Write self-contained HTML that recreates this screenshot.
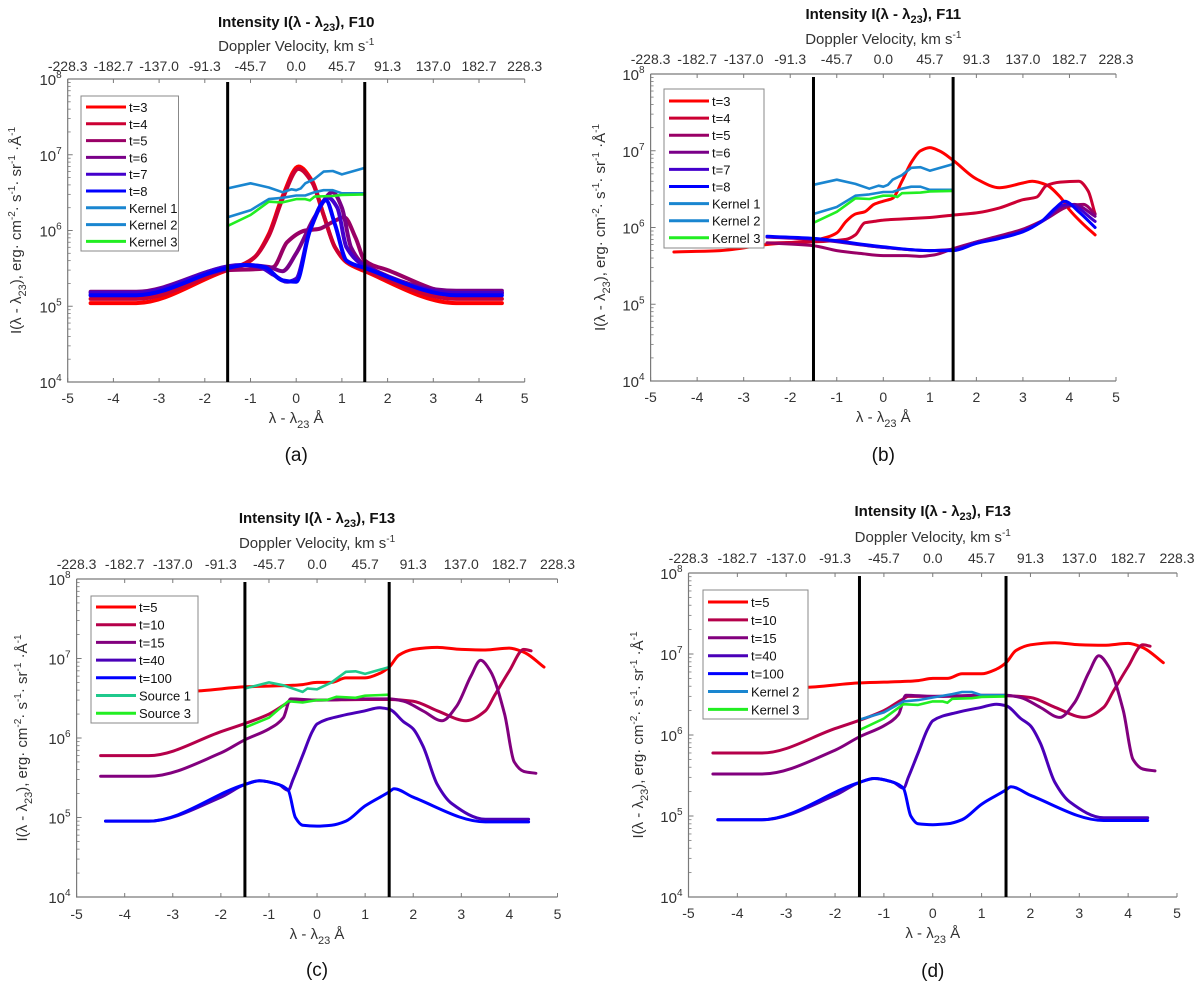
<!DOCTYPE html>
<html><head><meta charset="utf-8">
<style>
html,body{margin:0;padding:0;background:#fff;}
svg{display:block;}
text{font-family:"Liberation Sans",sans-serif;}
</style></head>
<body>
<svg id="fig" width="1200" height="988" viewBox="0 0 1200 988" xmlns="http://www.w3.org/2000/svg"></svg>
<script>
// ---------- DATA ----------
// Panel (a) F10
const aT3x=[-4.5,-3.5,-1.5,-1.2,-0.9,-0.6,-0.3,0.05,0.35,0.6,0.85,1.1,1.5,3.5,4.5];
const aT3y=[1.1e5,1.1e5,3e5,3.4e5,4.5e5,9e5,2.8e6,7e6,4.5e6,1.6e6,6e5,3.8e5,2.9e5,1.1e5,1.1e5];
const aT4x=[-4.5,-3.5,-1.5,-1.2,-0.9,-0.6,-0.3,0.05,0.35,0.6,0.85,1.1,1.5,3.5,4.5];
const aT4y=[1.25e5,1.25e5,3.1e5,3.5e5,4.5e5,8.5e5,2.6e6,6.5e6,4.3e6,1.6e6,6e5,3.9e5,3e5,1.25e5,1.25e5];
const aT5x=[-4.5,-3.5,-1.5,-0.8,-0.5,-0.2,0.2,0.5,0.8,1.05,1.3,1.5,2,3.5,4.5];
const aT5y=[1.4e5,1.4e5,3e5,3.1e5,3.3e5,7e5,1e6,1.05e6,1.3e6,1.5e6,8e5,4e5,3e5,1.5e5,1.5e5];
const aT6x=[-4.5,-3.5,-1.5,-1.1,-0.6,-0.3,0,0.4,0.8,1.0,1.2,1.5,3.5,4.5];
const aT6y=[1.55e5,1.55e5,3.3e5,3.5e5,3.3e5,2.9e5,5e5,1.5e6,3.2e6,2e6,6e5,3.5e5,1.6e5,1.6e5];
const aT7x=[-4.5,-3.5,-1.2,-0.8,-0.5,-0.2,0,0.3,0.7,0.9,1.1,1.5,3.5,4.5];
const aT7y=[1.5e5,1.5e5,3.5e5,3.3e5,2.6e5,2.1e5,2.3e5,1e6,2.7e6,2e6,6e5,3.4e5,1.5e5,1.5e5];
const aT8x=[-4.5,-3.5,-1.5,-1.1,-0.7,-0.3,0,0.3,0.65,0.85,1.1,1.5,3.5,4.5];
const aT8y=[1.4e5,1.4e5,3.2e5,3.5e5,3.3e5,2.2e5,2.1e5,1e6,2.5e6,1.2e6,4e5,3.2e5,1.4e5,1.4e5];
const k1x=[-1.5,-1,-0.6,-0.3,-0.1,0,0.1,0.2,0.4,0.6,0.8,1.0,1.5];
const k1y=[3.6e6,4.2e6,3.7e6,3.2e6,3.5e6,3.4e6,3.6e6,4.2e6,4.8e6,6e6,6.1e6,5.5e6,6.7e6];
const k2x=[-1.5,-1,-0.6,-0.3,0,0.2,0.4,0.6,0.8,1.0,1.5];
const k2y=[1.5e6,1.85e6,2.6e6,2.7e6,2.9e6,2.9e6,3.2e6,3.4e6,3.4e6,3.1e6,3.1e6];
const k3x=[-1.5,-1,-0.6,-0.3,0,0.2,0.3,0.4,0.8,1.0,1.5];
const k3y=[1.15e6,1.6e6,2.4e6,2.35e6,2.6e6,2.6e6,2.5e6,2.8e6,2.85e6,2.95e6,3e6];
// Panel (b) F11
const bT3x=[-4.5,-3.5,-2.5,-1.5,-1.2,-1,-0.8,-0.6,-0.4,-0.2,0,0.2,0.4,0.6,0.8,1.0,1.2,1.5,2,2.5,3,3.2,3.5,3.8,4.0,4.3,4.55];
const bT3y=[4.8e5,5e5,6e5,6.8e5,7.5e5,8.5e5,1.2e6,1.5e6,1.6e6,2e6,2.2e6,2.4e6,4e6,7e6,1e7,1.1e7,1e7,7.5e6,4.3e6,3.3e6,3.8e6,4e6,3.6e6,2.5e6,1.7e6,1.1e6,8e5];
const bT4x=[-2.5,-1.5,-0.8,-0.6,-0.4,-0.2,0,0.5,1,1.5,2,2.5,3,3.3,3.5,3.8,4.2,4.4,4.55];
const bT4y=[6.3e5,6.5e5,7e5,8e5,1.15e6,1.2e6,1.25e6,1.3e6,1.35e6,1.45e6,1.55e6,1.8e6,2.3e6,2.5e6,3.5e6,3.9e6,4e6,3e6,1.5e6];
const bT5x=[-2.5,-1.5,-1,-0.5,0,0.5,0.8,1.1,1.5,2,2.5,3,3.5,4,4.3,4.55];
const bT5y=[6.3e5,5.8e5,5e5,4.6e5,4.3e5,4.3e5,4.2e5,4.4e5,5.3e5,6.5e5,7.8e5,9.5e5,1.3e6,1.9e6,2e6,1.5e6];
const bT6x=[-2.5,-1.5,0,1,1.5,2,2.5,3,3.5,3.8,4.1,4.55];
const bT6y=[7.5e5,7e5,5.5e5,5e5,5.2e5,6.5e5,7.5e5,9e5,1.3e6,1.8e6,2e6,1.4e6];
const bT7x=[-2.5,-1.5,0,1,1.5,2,2.5,3,3.5,3.8,4.0,4.55];
const bT7y=[7.6e5,7.1e5,5.5e5,5e5,5.1e5,6.3e5,7.3e5,9e5,1.3e6,1.9e6,2e6,1.2e6];
const bT8x=[-2.5,-1.5,0,1,1.5,2,2.5,3,3.4,3.7,3.9,4.2,4.55];
const bT8y=[7.7e5,7.2e5,5.6e5,5e5,5e5,6.2e5,7.2e5,8.8e5,1.2e6,1.8e6,2.2e6,1.6e6,1e6];
// Panel (c) and (d) F13
const cT5x=[-4.5,-2.5,-1.5,-0.5,-0.3,0,0.3,0.6,1.0,1.3,1.5,1.7,2,2.5,3,3.5,4,4.3,4.72];
const cT5y=[3.6e6,3.9e6,4.4e6,4.6e6,4.7e6,5e6,5e6,5.7e6,5.7e6,6.5e6,7.8e6,1.1e7,1.3e7,1.38e7,1.3e7,1.28e7,1.35e7,1.2e7,7.8e6];
const cT10x=[-4.5,-3.5,-2,-1,-0.6,-0.5,0,1,1.5,2,2.5,3.1,3.5,3.7,4,4.3,4.45];
const cT10y=[6e5,6e5,1.2e6,2e6,2.8e6,3e6,3e6,3.05e6,3.05e6,2.9e6,2.2e6,1.65e6,2.2e6,3.5e6,7e6,1.3e7,1.25e7];
const cT15x=[-4.5,-3.5,-2,-1.5,-1,-0.7,-0.55,0,1,1.5,1.8,2.2,2.6,2.9,3.2,3.4,3.6,3.9,4.1,4.3,4.55];
const cT15y=[3.3e5,3.3e5,6.5e5,9.5e5,1.3e6,1.8e6,3.1e6,3e6,3.1e6,3.1e6,2.9e6,2.2e6,1.65e6,2.5e6,6e6,9.5e6,7e6,2e6,5e5,3.8e5,3.6e5];
const cT40x=[-4.4,-3.5,-2,-1.5,-1.2,-0.8,-0.6,-0.5,-0.3,-0.1,0,0.5,1,1.3,1.5,1.8,2,2.2,2.5,2.8,3.5,4.4];
const cT40y=[9e4,9e4,1.8e5,2.6e5,2.9e5,2.6e5,2.2e5,3e5,6e5,1.2e6,1.5e6,1.9e6,2.2e6,2.4e6,2.3e6,1.6e6,1.3e6,8e5,2.6e5,1.5e5,9.5e4,9.5e4];
const cT100x=[-4.4,-3.5,-1.5,-1.2,-0.8,-0.6,-0.45,-0.3,0,0.3,0.6,1.0,1.5,1.6,2,3.5,4.4];
const cT100y=[9e4,9e4,2.6e5,2.9e5,2.6e5,2.2e5,1e5,8e4,7.8e4,8e4,9e4,1.4e5,2.1e5,2.3e5,1.8e5,8.8e4,8.8e4];
const s1x=[-1.5,-1,-0.7,-0.3,-0.2,0,0.3,0.6,0.8,1.0,1.5];
const s1y=[4.2e6,5e6,4.6e6,3.8e6,4.2e6,4.1e6,5e6,6.8e6,6.9e6,6.4e6,7.8e6];
const s3x=[-1.5,-1,-0.6,-0.3,0,0.2,0.4,0.8,1,1.5];
const s3y=[1.35e6,1.8e6,2.9e6,2.8e6,3e6,3e6,3.3e6,3.2e6,3.4e6,3.5e6];
const dk2x=[-1.5,-1,-0.6,-0.3,0,0.4,0.6,0.8,1.0,1.5];
const dk2y=[1.55e6,1.9e6,2.6e6,2.7e6,2.9e6,3.2e6,3.4e6,3.4e6,3.1e6,3.1e6];
const xTicks=[-5,-4,-3,-2,-1,0,1,2,3,4,5];
const topTickLabels=["-228.3","-182.7","-137.0","-91.3","-45.7","0.0","45.7","91.3","137.0","182.7","228.3"];
const yDecades=[4,5,6,7,8];

const C={r:"#ff0000",c4:"#cc0033",c5:"#990066",c6:"#7a0088",c7:"#4400cc",c8:"#0000ff",k:"#1a86d0",g:"#22ee22",s1:"#1fc98c",c10:"#b5004a",c15:"#82007e",c40:"#4a00b8"};

const panels=[
 {id:"a",L:67.7,R:524.7,T:79,B:382,title:"F10",tY:27,dY:51,ttY:71,btY:403,xlY:423,ylX:21,cap:"(a)",capY:461,lw:4,
  leg:{x:81,y:96,w:97.5,h:155,y0:107,dy:16.8},
  series:[["t=3",aT3x,aT3y,C.r,1],["t=4",aT4x,aT4y,C.c4,1],["t=5",aT5x,aT5y,C.c5,1],["t=6",aT6x,aT6y,C.c6,1],["t=7",aT7x,aT7y,C.c7,1],["t=8",aT8x,aT8y,C.c8,1],["Kernel 1",k1x,k1y,C.k,0],["Kernel 2",k2x,k2y,C.k,0],["Kernel 3",k3x,k3y,C.g,0]]},
 {id:"b",L:650.6,R:1116,T:74,B:381,title:"F11",tY:19,dY:44,ttY:64,btY:402,xlY:422,ylX:605,cap:"(b)",capY:461,lw:3,
  leg:{x:664,y:89,w:100,h:159,y0:101,dy:17.1},
  series:[["t=3",bT3x,bT3y,C.r,1],["t=4",bT4x,bT4y,C.c4,1],["t=5",bT5x,bT5y,C.c5,1],["t=6",bT6x,bT6y,C.c6,1],["t=7",bT7x,bT7y,C.c7,1],["t=8",bT8x,bT8y,C.c8,1],["Kernel 1",k1x,k1y,C.k,0],["Kernel 2",k2x,k2y,C.k,0],["Kernel 3",k3x,k3y,C.g,0]]},
 {id:"c",L:76.6,R:557.5,T:579,B:897,title:"F13",tY:523,dY:548,ttY:569,btY:919,xlY:939,ylX:27,cap:"(c)",capY:976,lw:3,
  leg:{x:91,y:596,w:107,h:127,y0:607,dy:17.7},
  series:[["t=5",cT5x,cT5y,C.r,1],["t=10",cT10x,cT10y,C.c10,1],["t=15",cT15x,cT15y,C.c15,1],["t=40",cT40x,cT40y,C.c40,1],["t=100",cT100x,cT100y,C.c8,1],["Source 1",s1x,s1y,C.s1,0],["Source 3",s3x,s3y,C.g,0]]},
 {id:"d",L:688.5,R:1177,T:573,B:897,title:"F13",tY:516,dY:542,ttY:563,btY:918,xlY:938,ylX:643,cap:"(d)",capY:977,lw:3,
  leg:{x:703,y:590,w:105,h:129,y0:602,dy:17.9},
  series:[["t=5",cT5x,cT5y,C.r,1],["t=10",cT10x,cT10y,C.c10,1],["t=15",cT15x,cT15y,C.c15,1],["t=40",cT40x,cT40y,C.c40,1],["t=100",cT100x,cT100y,C.c8,1],["Kernel 2",dk2x,dk2y,C.k,0],["Kernel 3",k3x,k3y,C.g,0]]}
];

const NS="http://www.w3.org/2000/svg";
const fig=document.getElementById('fig');
function mk(tag,attrs,parent){const e=document.createElementNS(NS,tag);for(const k in attrs)e.setAttribute(k,attrs[k]);(parent||fig).appendChild(e);return e;}
// monotone cubic (Fritsch-Carlson) in pixel space – no overshoot
function smooth(pts){
  const n=pts.length;
  if(n<3)return "M"+pts.map(p=>p[0].toFixed(1)+","+p[1].toFixed(1)).join("L");
  const h=[],d=[];
  for(let i=0;i<n-1;i++){h.push(pts[i+1][0]-pts[i][0]);d.push((pts[i+1][1]-pts[i][1])/h[i]);}
  const m=[d[0]];
  for(let i=1;i<n-1;i++){
    if(d[i-1]*d[i]<=0)m.push(0);
    else{const w1=2*h[i]+h[i-1],w2=h[i]+2*h[i-1];m.push((w1+w2)/(w1/d[i-1]+w2/d[i]));}
  }
  m.push(d[n-2]);
  let s="M"+pts[0][0].toFixed(1)+","+pts[0][1].toFixed(1);
  for(let i=0;i<n-1;i++){
    const x0=pts[i][0],y0=pts[i][1],x1=pts[i+1][0],y1=pts[i+1][1],dx=h[i]/3;
    s+="C"+(x0+dx).toFixed(1)+","+(y0+m[i]*dx).toFixed(1)+" "+(x1-dx).toFixed(1)+","+(y1-m[i+1]*dx).toFixed(1)+" "+x1.toFixed(1)+","+y1.toFixed(1);
  }
  return s;
}

panels.forEach(P=>{
  const g=mk('g',{});
  
  
  const xs=v=>P.L+(v+5)/10*(P.R-P.L);
  const ys=v=>P.B-(Math.log10(v)-4)/4*(P.B-P.T);
  const cx=(P.L+P.R)/2;
  const t=mk('text',{x:cx,y:P.tY,'text-anchor':'middle','font-size':15,'font-weight':'bold',fill:'#111'},g);
  
  t.innerHTML='Intensity I(λ - λ<tspan font-size="11" dy="4">23</tspan><tspan dy="-4">), '+P.title+'</tspan>';
  const dv=mk('text',{x:cx,y:P.dY,'text-anchor':'middle','font-size':15,fill:'#333'},g);
  
  dv.innerHTML='Doppler Velocity, km s<tspan font-size="10" dy="-6">-1</tspan>';
  mk('path',{d:`M${P.L},${P.T}H${P.R}M${P.L},${P.T}V${P.B}H${P.R}`,stroke:'#7a7a7a','stroke-width':1.2,fill:'none'},g);
  xTicks.forEach((v,i)=>{
    const x=xs(v);
    mk('line',{x1:x,x2:x,y1:P.B,y2:P.B-4,stroke:'#7a7a7a','stroke-width':1},g);
    mk('line',{x1:x,x2:x,y1:P.T,y2:P.T+4,stroke:'#7a7a7a','stroke-width':1},g);
    const bl=mk('text',{x:x,y:P.btY,'text-anchor':'middle','font-size':14,fill:'#333'},g);
    
    bl.textContent=String(v);
    const tl=mk('text',{x:x,y:P.ttY,'text-anchor':'middle','font-size':14,fill:'#333'},g);
    
    tl.textContent=topTickLabels[i];
  });
  yDecades.forEach(d=>{
    const y=ys(Math.pow(10,d));
    mk('line',{x1:P.L,x2:P.L+5,y1:y,y2:y,stroke:'#7a7a7a','stroke-width':1},g);
    const yl=mk('text',{x:P.L-6,y:y+6,'text-anchor':'end','font-size':15,fill:'#333'},g);
    
    yl.innerHTML='10<tspan font-size="10" dy="-7">'+d+'</tspan>';
    if(d<8)for(let m=2;m<10;m++){const ym=ys(m*Math.pow(10,d));mk('line',{x1:P.L,x2:P.L+3,y1:ym,y2:ym,stroke:'#7a7a7a','stroke-width':0.8},g);}
  });
  const xl=mk('text',{x:cx,y:P.xlY,'text-anchor':'middle','font-size':15,fill:'#333'},g);
  
  xl.innerHTML='λ - λ<tspan font-size="11" dy="5">23</tspan><tspan dy="-5"> Å</tspan>';
  const my=(P.T+P.B)/2;
  const yt=mk('text',{x:P.ylX,y:my,'text-anchor':'middle','font-size':15,fill:'#333',transform:`rotate(-90 ${P.ylX} ${my})`},g);
  
  yt.innerHTML='I(λ - λ<tspan font-size="11" dy="5">23</tspan><tspan dy="-5">), erg· cm</tspan><tspan font-size="10" dy="-6">-2</tspan><tspan dy="6">· s</tspan><tspan font-size="10" dy="-6">-1</tspan><tspan dy="6">· sr</tspan><tspan font-size="10" dy="-6">-1</tspan><tspan dy="6"> ·Å</tspan><tspan font-size="10" dy="-6">-1</tspan>';
  P.series.forEach(s=>{
    const pts=s[1].map((x,i)=>[xs(x),ys(s[2][i])]);
    const p=mk('path',{d:s[4]?smooth(pts):"M"+pts.map(q=>q[0].toFixed(1)+","+q[1].toFixed(1)).join("L"),stroke:s[3],'stroke-width':s[4]?P.lw:2.6,fill:'none','stroke-linejoin':'round','stroke-linecap':'round'},g);
    
    
  });
  [-1.5,1.5].forEach(v=>{
    const l=mk('line',{x1:xs(v),x2:xs(v),y1:P.T+3,y2:P.B,stroke:'#000','stroke-width':3},g);
    
  });
  const Lg=P.leg;
  const lg=mk('g',{},g);
  
  mk('rect',{x:Lg.x,y:Lg.y,width:Lg.w,height:Lg.h,fill:'#fff',stroke:'#888','stroke-width':1},lg);
  P.series.forEach((s,i)=>{
    const y=Lg.y0+i*Lg.dy;
    mk('line',{x1:Lg.x+5,x2:Lg.x+45,y1:y,y2:y,stroke:s[3],'stroke-width':3},lg);
    const tx=mk('text',{x:Lg.x+48,y:y+5,'font-size':13,fill:'#111'},lg);
    
    
    tx.textContent=s[0];
  });
  const cp=mk('text',{x:cx,y:P.capY,'text-anchor':'middle','font-size':19,fill:'#111','font-family':'Liberation Serif, serif'},g);
  
  cp.textContent=P.cap;
});
</script>
</body></html>
